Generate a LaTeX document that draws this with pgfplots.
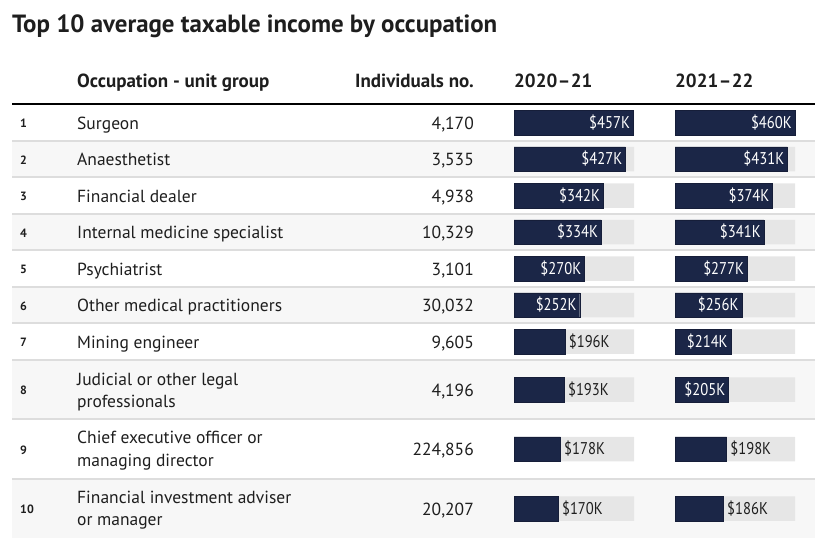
\documentclass[border=0pt]{standalone}
\usepackage{pgfplots}
\usepackage{pgfplotstable}
\pgfplotsset{compat=1.18}
\usepackage{fontspec}
\setmainfont{PT Sans}
\newfontfamily\narrow[FakeStretch=0.86]{PT Sans}
\definecolor{navy}{HTML}{1B2647}
\definecolor{track}{HTML}{E6E6E6}
\definecolor{rowbg}{HTML}{F7F7F7}
\definecolor{sep}{HTML}{DDDDDD}
\definecolor{txt}{HTML}{1E1E1E}
\pgfplotstableread{
y     a    b    full
122.5 457  460  460
159   427  431  460
195.5 342  374  460
232   334  341  460
268.5 270  277  460
305   252  256  460
341.5 196  214  460
389.5 193  205  460
449   178  198  460
508.5 170  186  460
}\datatable
\newcommand{\rowfont}{\fontsize{17.5}{22}\selectfont}
\newcommand{\labfont}{\narrow\fontsize{17}{22}\selectfont}
\pgfplotsset{
  baraxis/.style={anchor=south west, width=120pt, height=550pt, scale only axis,
    xmin=0, xmax=460, ymin=0, ymax=550, y dir=reverse, axis lines=none, clip=false},
  barlab/.style={draw=none, nodes near coords={\$\pgfmathprintnumber[assume math mode=true]{\pgfplotspointmeta}K},
    point meta=x},
}
\begin{document}
\begin{tikzpicture}
\path (0pt,0pt) rectangle (829pt,550pt);
\begin{axis}[at={(0pt,0pt)}, anchor=south west, width=829pt, height=550pt, scale only axis,
  xmin=0, xmax=829, ymin=0, ymax=550, y dir=reverse, axis lines=none, clip=false]
% row backgrounds
\foreach \a/\b in {141/177, 214/250, 287/323, 360/419, 479/538}{
  \edef\tmp{\noexpand\fill[rowbg] (axis cs:12,\a) rectangle (axis cs:815,\b);}\tmp
}
\foreach \a in {141,177,214,250,287,323,360,419,479}{
  \edef\tmp{\noexpand\draw[sep, line width=1.2pt] (axis cs:12,\a) -- (axis cs:815,\a);}\tmp
}
\draw[black, line width=2pt] (axis cs:12,103.5) -- (axis cs:815,103.5);
% title
\node[anchor=base west, inner sep=0pt, text=txt, font=\bfseries\fontsize{24.9}{28}\selectfont] at (axis cs:12,32.5) {Top 10 average taxable income by occupation};
% headers
\begin{scope}[every node/.style={inner sep=0pt, text=txt, font=\bfseries\fontsize{19}{22}\selectfont}]
\node[anchor=base west] at (axis cs:77,87.5) {Occupation - unit group};
\node[anchor=base east] at (axis cs:474,87.5) {Individuals no.};
\node[anchor=base west] at (axis cs:514,87.5) {2020\kern0.5pt--\kern0.5pt21};
\node[anchor=base west] at (axis cs:675,87.5) {2021\kern0.5pt--\kern0.5pt22};
\end{scope}
% row numbers
\begin{scope}[every node/.style={inner sep=0pt, anchor=base west, text=txt, font=\bfseries\fontsize{12}{14}\selectfont}]
\foreach \n/\y in {1/122.5,2/159,3/195.5,4/232,5/268.5,6/305,7/341.5,8/389.5,9/449,10/508.5}{
  \edef\tmp{\noexpand\node at (axis cs:20,\y+5) {\n};}\tmp
}
\end{scope}
% occupations
\begin{scope}[every node/.style={inner sep=0pt, anchor=base west, text=txt, font=\rowfont}]
\node at (axis cs:77,129.3) {Surgeon};
\node at (axis cs:77,165.8) {Anaesthetist};
\node at (axis cs:77,202.3) {Financial dealer};
\node at (axis cs:77,238.8) {Internal medicine specialist};
\node at (axis cs:77,275.3) {Psychiatrist};
\node at (axis cs:77,311.8) {Other medical practitioners};
\node at (axis cs:77,348.3) {Mining engineer};
\node at (axis cs:77,385) {Judicial or other legal};
\node at (axis cs:77,407) {professionals};
\node at (axis cs:77,443.5) {Chief executive officer or};
\node at (axis cs:77,466) {managing director};
\node at (axis cs:77,503.3) {Financial investment adviser};
\node at (axis cs:77,525.7) {or manager};
\end{scope}
% individuals
\begin{scope}[every node/.style={inner sep=0pt, anchor=base east, text=txt, font=\rowfont}]
\node at (axis cs:474,129.3) {4,170};
\node at (axis cs:474,165.8) {3,535};
\node at (axis cs:474,202.3) {4,938};
\node at (axis cs:474,238.8) {10,329};
\node at (axis cs:474,275.3) {3,101};
\node at (axis cs:474,311.8) {30,032};
\node at (axis cs:474,348.3) {9,605};
\node at (axis cs:474,396) {4,196};
\node at (axis cs:474,455.5) {224,856};
\node at (axis cs:474,515) {20,207};
\end{scope}
\end{axis}
% column 2020-21
\begin{axis}[baraxis, at={(514pt,0pt)}]
\addplot[xbar, bar shift=0pt, bar width=24.5pt, fill=track, draw=none] table[x=full, y=y] {\datatable};
\addplot[xbar, bar shift=0pt, bar width=24.5pt, fill=navy, draw=navy!80!black] table[x=a, y=y] {\datatable};
\addplot[barlab, x filter/.expression={x>=200 ? x : nan},
  nodes near coords style={anchor=east, inner sep=3pt, text=white, font=\labfont}] table[x=a, y=y] {\datatable};
\addplot[barlab, x filter/.expression={x<200 ? x : nan},
  nodes near coords style={anchor=west, inner sep=3.5pt, text=txt, font=\labfont}] table[x=a, y=y] {\datatable};
\end{axis}
% column 2021-22
\begin{axis}[baraxis, at={(675pt,0pt)}]
\addplot[xbar, bar shift=0pt, bar width=24.5pt, fill=track, draw=none] table[x=full, y=y] {\datatable};
\addplot[xbar, bar shift=0pt, bar width=24.5pt, fill=navy, draw=navy!80!black] table[x=b, y=y] {\datatable};
\addplot[barlab, x filter/.expression={x>=200 ? x : nan},
  nodes near coords style={anchor=east, inner sep=3pt, text=white, font=\labfont}] table[x=b, y=y] {\datatable};
\addplot[barlab, x filter/.expression={x<200 ? x : nan},
  nodes near coords style={anchor=west, inner sep=3.5pt, text=txt, font=\labfont}] table[x=b, y=y] {\datatable};
\end{axis}
\end{tikzpicture}
\end{document}
